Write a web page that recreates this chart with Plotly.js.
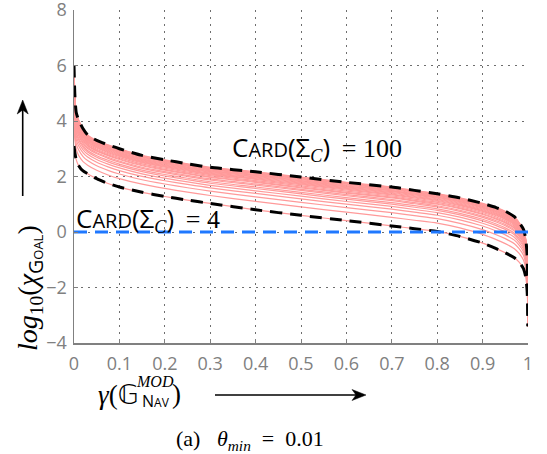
<!DOCTYPE html>
<html>
<head>
<meta charset="utf-8">
<script src="https://cdn.plot.ly/plotly-3.0.1.min.js"></script>
<style>html,body{margin:0;padding:0;background:#fff;}#chart{width:547px;height:454px;}</style>
</head>
<body>
<div id="chart"></div>
<script>
// gamma values (x axis)
const gammaX = [0, 0.002, 0.005, 0.01, 0.02, 0.03, 0.05, 0.075, 0.1, 0.15, 0.2, 0.25, 0.3, 0.4, 0.5, 0.6, 0.7, 0.75, 0.8, 0.85, 0.9, 0.93, 0.95, 0.97, 0.98, 0.99, 0.995, 0.998, 0.999, 1];
// log10(chi_goal) for Card(Sigma_C) = 100 (upper dashed)
const card100Y = [6.0, 4.9, 4.3, 4.05, 3.72, 3.5, 3.3, 3.14, 3.0, 2.76, 2.6, 2.46, 2.33, 2.17, 1.98, 1.79, 1.62, 1.5, 1.38, 1.23, 1.03, 0.88, 0.75, 0.55, 0.35, 0.1, -0.25, -0.8, -1.6, -3.4];
// log10(chi_goal) for Card(Sigma_C) = 4 (lower dashed)
const card4Y = [3.1, 2.85, 2.6, 2.4, 2.2, 2.1, 1.92, 1.75, 1.62, 1.43, 1.28, 1.15, 1.03, 0.8, 0.6, 0.41, 0.22, 0.12, 0.02, -0.16, -0.4, -0.6, -0.75, -0.93, -1.08, -1.32, -1.62, -2.1, -2.5, -3.4];
// relative position of each pink curve between the Card=4 (0) and Card=100 (1) curves, read at gamma = 0.5
const pinkPos = [0, 0.22, 0.34, 0.43, 0.5, 0.56, 0.6, 0.65, 0.68, 0.72, 0.74, 0.77, 0.8, 0.82, 0.84, 0.86, 0.88, 0.9, 0.91, 0.93, 0.95, 0.96, 0.97, 0.99, 1];
// blue reference line log10(chi)=0
const refX = [0, 1];
const refY = [0, 0];
const xTicks = [0, 0.1, 0.2, 0.3, 0.4, 0.5, 0.6, 0.7, 0.8, 0.9, 1];
const xTickText = ['0', '0.1', '0.2', '0.3', '0.4', '0.5', '0.6', '0.7', '0.8', '0.9', '1'];
const yTicks = [-4, -2, 0, 2, 4, 6, 8];

const traces = [];
pinkPos.forEach(t => {
  traces.push({
    x: gammaX,
    y: card4Y.map((v, i) => v + t * (card100Y[i] - v)),
    mode: 'lines', line: {color: '#ff9a9a', width: 1.2, shape: 'spline', smoothing: 0.6},
    hoverinfo: 'skip'
  });
});
traces.push({x: gammaX, y: card100Y, mode: 'lines', line: {color: '#000', width: 3, dash: '12px,8px', shape: 'spline', smoothing: 0.6}});
traces.push({x: gammaX, y: card4Y, mode: 'lines', line: {color: '#000', width: 3, dash: '12px,8px', shape: 'spline', smoothing: 0.6}});
traces.push({x: refX, y: refY, mode: 'lines', line: {color: '#1f78ff', width: 3, dash: '13px,8px'}});

// plot-area geometry helpers (pixels -> paper)
const L = 74, T = 10, W = 454, H = 333;
const px = v => (v - L) / W;
const py = v => (T + H - v) / H;

const serif = 'Liberation Serif, Times New Roman, serif';
const sans = 'Open Sans, DejaVu Sans, sans-serif';
const cardTxt = n => "<span style='font-family:Open Sans'>C<span style='font-size:20px'>ARD</span>(Σ</span><sub><i>C</i></sub><span style='font-family:Open Sans'>)</span>\u2009 = " + n;

const annotations = [
  {xref: 'x', yref: 'y', x: 0.3436, y: 3.05, xanchor: 'left', yanchor: 'middle', showarrow: false,
   font: {family: serif, size: 26, color: '#000'}, text: cardTxt('100')},
  {xref: 'x', yref: 'y', x: 0, y: 0.47, xanchor: 'left', yanchor: 'middle', showarrow: false,
   font: {family: serif, size: 26, color: '#000'}, text: cardTxt('4')},
  // y axis title
  {xref: 'paper', yref: 'paper', x: px(30), y: py(288), xanchor: 'center', yanchor: 'middle', showarrow: false, textangle: -90,
   font: {family: serif, size: 28, color: '#000'},
   text: "<i>log</i><sub>10</sub>(<i>χ</i><sub><span style='font-family:Open Sans'>G<span style='font-size:13px'>OAL</span></span></sub>)"},
  // x axis title pieces
  {xref: 'paper', yref: 'paper', x: px(96), y: py(394), xanchor: 'left', yanchor: 'middle', showarrow: false,
   font: {family: serif, size: 27, color: '#000'}, text: "<i>γ</i>(<span style='font-family:DejaVu Sans'>𝔾</span>"},
  {xref: 'paper', yref: 'paper', x: px(134), y: py(381), xanchor: 'left', yanchor: 'middle', showarrow: false,
   font: {family: serif, size: 16, color: '#000'}, text: "<i>MOD</i>"},
  {xref: 'paper', yref: 'paper', x: px(140), y: py(401), xanchor: 'left', yanchor: 'middle', showarrow: false,
   font: {family: sans, size: 16, color: '#000'}, text: "N<span style='font-size:12px'>AV</span>"},
  {xref: 'paper', yref: 'paper', x: px(170), y: py(394), xanchor: 'left', yanchor: 'middle', showarrow: false,
   font: {family: serif, size: 27, color: '#000'}, text: ")"},
  // caption
  {xref: 'paper', yref: 'paper', x: px(250), y: py(440), xanchor: 'center', yanchor: 'middle', showarrow: false,
   font: {family: serif, size: 22, color: '#000'}, text: "(a)&nbsp;&nbsp; <i>θ<sub>min</sub></i>&nbsp; =&nbsp; 0.01"}
];

// arrows as shapes
function arrowShapes(x0, y0, x1, y1) {
  const dx = x1 - x0, dy = y1 - y0, len = Math.hypot(dx, dy);
  const ux = dx / len, uy = dy / len, nx = -uy, ny = ux;
  const hl = 14, hw = 5.5, back = 10;
  const bx = x1 - ux * hl, by = y1 - uy * hl;
  const cx = x1 - ux * back, cy = y1 - uy * back;
  const p = (a, b) => px(a) + ',' + py(b);
  return [
    {type: 'line', xref: 'paper', yref: 'paper', x0: px(x0), y0: py(y0), x1: px(cx), y1: py(cy), line: {color: '#000', width: 1.6}},
    {type: 'path', xref: 'paper', yref: 'paper', fillcolor: '#000', line: {color: '#000', width: 0.5},
     path: 'M' + p(x1, y1) + ' L' + p(bx + nx * hw, by + ny * hw) + ' L' + p(cx, cy) + ' L' + p(bx - nx * hw, by - ny * hw) + ' Z'}
  ];
}
const shapes = [].concat(arrowShapes(22.7, 196, 22.7, 100), arrowShapes(215, 395, 366, 395));

const axisCommon = {
  showline: true, linecolor: '#808080', linewidth: 1.5, mirror: false,
  ticks: 'inside', ticklen: 4, tickwidth: 1, tickcolor: '#808080',
  showgrid: true, gridcolor: '#6e6e6e', gridwidth: 1, griddash: '2px,5px',
  zeroline: false, tickfont: {family: sans, size: 18, color: '#808080'}, fixedrange: true,
  ticklabeloverflow: 'allow'
};

const layout = {
  width: 547, height: 454,
  margin: {l: L, r: 547 - L - W, t: T, b: 454 - T - H},
  paper_bgcolor: '#fff', plot_bgcolor: '#fff', showlegend: false,
  xaxis: Object.assign({}, axisCommon, {range: [0, 1], tickvals: xTicks, ticktext: xTickText, ticklabelstandoff: 4}),
  yaxis: Object.assign({}, axisCommon, {range: [-4, 8], tickvals: yTicks, ticklabelstandoff: 2}),
  annotations: annotations, shapes: shapes
};

Plotly.newPlot('chart', traces, layout, {staticPlot: true, displayModeBar: false});
</script>
</body>
</html>
